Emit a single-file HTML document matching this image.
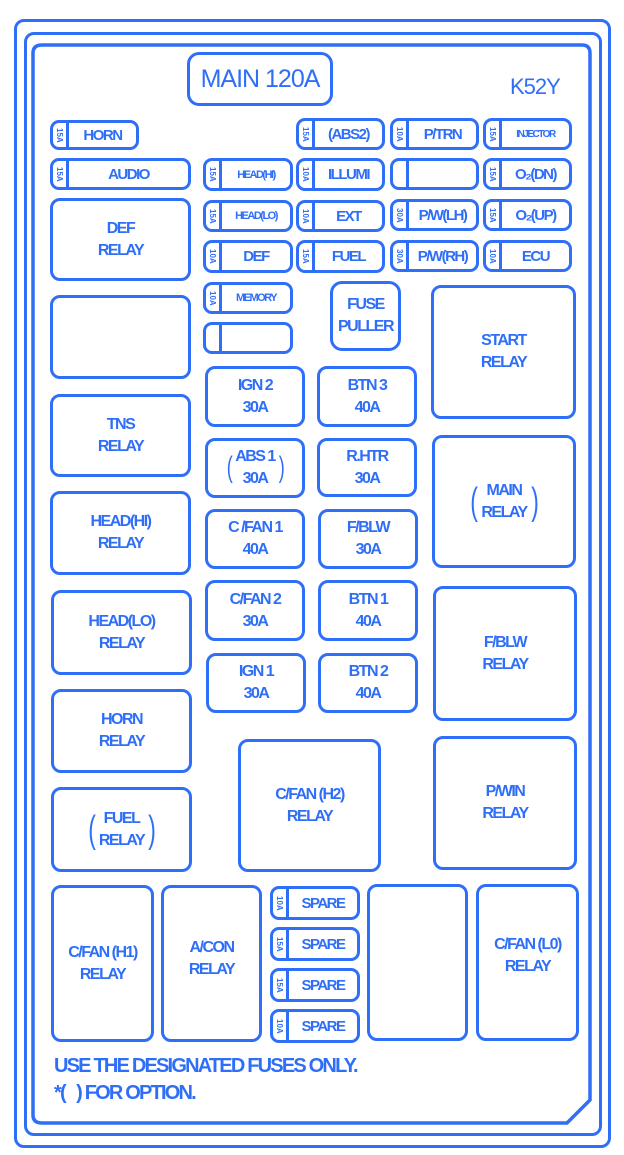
<!DOCTYPE html>
<html><head><meta charset="utf-8"><style>
body{margin:0;width:624px;height:1155px;background:#fff;position:relative;overflow:hidden;font-family:"Liberation Sans",sans-serif;color:#2f6ff8;letter-spacing:-1.5px;font-weight:bold}
div{box-sizing:border-box}
.a{position:absolute;border:3.5px solid #2f6ff8}
.r{border-radius:10px;display:flex;align-items:center;justify-content:center;text-align:center;font-size:16px;line-height:22px}
.f{border-radius:9px;display:flex;align-items:center;font-size:15px}
.f .t{width:16px;height:100%;border-right:3px solid #2f6ff8;font-size:8px;font-weight:bold;writing-mode:vertical-rl;display:flex;align-items:center;justify-content:center;letter-spacing:0}
.f .n{flex:1;text-align:center;white-space:nowrap}
.p{font-size:38px;font-weight:normal;transform:scaleX(.6);display:inline-block;margin:0 2px}
</style></head><body>
<div class="a" style="left:14px;top:19px;width:597px;height:1129px;border-radius:10px;border-width:3px"></div>
<div class="a" style="left:24px;top:32px;width:578px;height:1104px;border-radius:10px"></div>
<svg style="position:absolute;left:0;top:0" width="624" height="1155"><path d="M42 45 H582 Q590 45 590 53 V1100 L567 1123 H42 Q33 1123 33 1115 V53 Q33 45 42 45Z" fill="none" stroke="#2f6ff8" stroke-width="3.5"/></svg>
<div class="a r" style="left:187px;top:52px;width:146px;height:54px;font-size:25px;border-radius:12px;letter-spacing:-1px;font-weight:normal">MAIN 120A</div>
<div style="position:absolute;left:510px;top:74px;font-size:22px;letter-spacing:-1px;font-weight:normal">K52Y</div>

<div class="a f" style="left:50px;top:120px;width:89px;height:30px"><div class="t">15A</div><div class="n">HORN</div></div>
<div class="a f" style="left:296px;top:118px;width:89px;height:32px"><div class="t">15A</div><div class="n">(ABS2)</div></div>
<div class="a f" style="left:390px;top:118px;width:89px;height:32px"><div class="t">10A</div><div class="n">P/TRN</div></div>
<div class="a f" style="left:483px;top:118px;width:89px;height:32px"><div class="t">15A</div><div class="n" style="font-size:10px">INJECTOR</div></div>

<div class="a f" style="left:50px;top:158px;width:141px;height:32px"><div class="t">15A</div><div class="n">AUDIO</div></div>
<div class="a f" style="left:203px;top:158px;width:90px;height:33px"><div class="t">15A</div><div class="n" style="font-size:11px">HEAD(HI)</div></div>
<div class="a f" style="left:296px;top:158px;width:89px;height:33px"><div class="t">10A</div><div class="n">ILLUMI</div></div>
<div class="a f" style="left:390px;top:158px;width:89px;height:32px"><div class="t"></div><div class="n"></div></div>
<div class="a f" style="left:483px;top:158px;width:89px;height:32px"><div class="t">15A</div><div class="n">O₂(DN)</div></div>

<div class="a f" style="left:203px;top:200px;width:90px;height:32px"><div class="t">15A</div><div class="n" style="font-size:11px">HEAD(LO)</div></div>
<div class="a f" style="left:296px;top:200px;width:89px;height:32px"><div class="t">10A</div><div class="n">EXT</div></div>
<div class="a f" style="left:390px;top:199px;width:89px;height:32px"><div class="t">30A</div><div class="n">P/W(LH)</div></div>
<div class="a f" style="left:483px;top:199px;width:89px;height:32px"><div class="t">15A</div><div class="n">O₂(UP)</div></div>

<div class="a f" style="left:203px;top:240px;width:90px;height:33px"><div class="t">10A</div><div class="n">DEF</div></div>
<div class="a f" style="left:296px;top:240px;width:89px;height:33px"><div class="t">15A</div><div class="n">FUEL</div></div>
<div class="a f" style="left:390px;top:240px;width:89px;height:32px"><div class="t">30A</div><div class="n">P/W(RH)</div></div>
<div class="a f" style="left:483px;top:240px;width:89px;height:32px"><div class="t">10A</div><div class="n">ECU</div></div>

<div class="a f" style="left:203px;top:282px;width:90px;height:32px"><div class="t">10A</div><div class="n" style="font-size:11px">MEMORY</div></div>
<div class="a f" style="left:203px;top:322px;width:90px;height:32px"><div class="t"></div><div class="n"></div></div>

<div class="a r" style="left:50px;top:198px;width:141px;height:83px">DEF<br>RELAY</div>
<div class="a r" style="left:50px;top:295px;width:141px;height:84px"></div>
<div class="a r" style="left:50px;top:394px;width:141px;height:83px">TNS<br>RELAY</div>
<div class="a r" style="left:50px;top:491px;width:141px;height:84px">HEAD(HI)<br>RELAY</div>
<div class="a r" style="left:51px;top:590px;width:141px;height:85px">HEAD(LO)<br>RELAY</div>
<div class="a r" style="left:51px;top:689px;width:141px;height:84px">HORN<br>RELAY</div>
<div class="a r" style="left:51px;top:787px;width:141px;height:85px"><span class="p">(</span><span>FUEL<br>RELAY</span><span class="p">)</span></div>

<div class="a r" style="left:330px;top:281px;width:71px;height:70px;border-radius:12px">FUSE<br>PULLER</div>
<div class="a r" style="left:431px;top:285px;width:145px;height:134px">START<br>RELAY</div>
<div class="a r" style="left:432px;top:435px;width:144px;height:133px"><span class="p">(</span><span>MAIN<br>RELAY</span><span class="p">)</span></div>
<div class="a r" style="left:433px;top:586px;width:144px;height:135px">F/BLW<br>RELAY</div>
<div class="a r" style="left:433px;top:736px;width:144px;height:134px">P/WIN<br>RELAY</div>
<div class="a r" style="left:238px;top:739px;width:143px;height:133px">C/FAN (H2)<br>RELAY</div>

<div class="a r" style="left:205px;top:366px;width:100px;height:61px">IGN 2<br>30A</div>
<div class="a r" style="left:317px;top:366px;width:100px;height:61px">BTN 3<br>40A</div>
<div class="a r" style="left:205px;top:438px;width:100px;height:60px"><span class="p" style="font-size:30px">(</span><span>ABS 1<br>30A</span><span class="p" style="font-size:30px">)</span></div>
<div class="a r" style="left:317px;top:438px;width:100px;height:59px">R.HTR<br>30A</div>
<div class="a r" style="left:205px;top:509px;width:100px;height:60px">C /FAN 1<br>40A</div>
<div class="a r" style="left:318px;top:509px;width:100px;height:60px">F/BLW<br>30A</div>
<div class="a r" style="left:205px;top:580px;width:100px;height:61px">C/FAN 2<br>30A</div>
<div class="a r" style="left:318px;top:580px;width:100px;height:61px">BTN 1<br>40A</div>
<div class="a r" style="left:206px;top:653px;width:100px;height:60px">IGN 1<br>30A</div>
<div class="a r" style="left:318px;top:653px;width:100px;height:60px">BTN 2<br>40A</div>

<div class="a r" style="left:51px;top:885px;width:103px;height:157px">C/FAN (H1)<br>RELAY</div>
<div class="a r" style="left:161px;top:885px;width:101px;height:157px;padding-bottom:10px">A/CON<br>RELAY</div>
<div class="a f" style="left:270px;top:886px;width:90px;height:34px"><div class="t">10A</div><div class="n">SPARE</div></div>
<div class="a f" style="left:270px;top:927px;width:90px;height:34px"><div class="t">15A</div><div class="n">SPARE</div></div>
<div class="a f" style="left:270px;top:968px;width:90px;height:34px"><div class="t">15A</div><div class="n">SPARE</div></div>
<div class="a f" style="left:270px;top:1009px;width:90px;height:34px"><div class="t">10A</div><div class="n">SPARE</div></div>
<div class="a r" style="left:367px;top:884px;width:101px;height:157px"></div>
<div class="a r" style="left:476px;top:884px;width:103px;height:157px;padding-bottom:14px">C/FAN (L0)<br>RELAY</div>

<div style="position:absolute;left:54px;top:1055px;font-size:20px;letter-spacing:-1.8px">USE THE DESIGNATED FUSES ONLY.</div>
<div style="position:absolute;left:54px;top:1082px;font-size:20px;letter-spacing:-1.8px">*(&nbsp;&nbsp;&nbsp;) FOR OPTION.</div>
</body></html>
